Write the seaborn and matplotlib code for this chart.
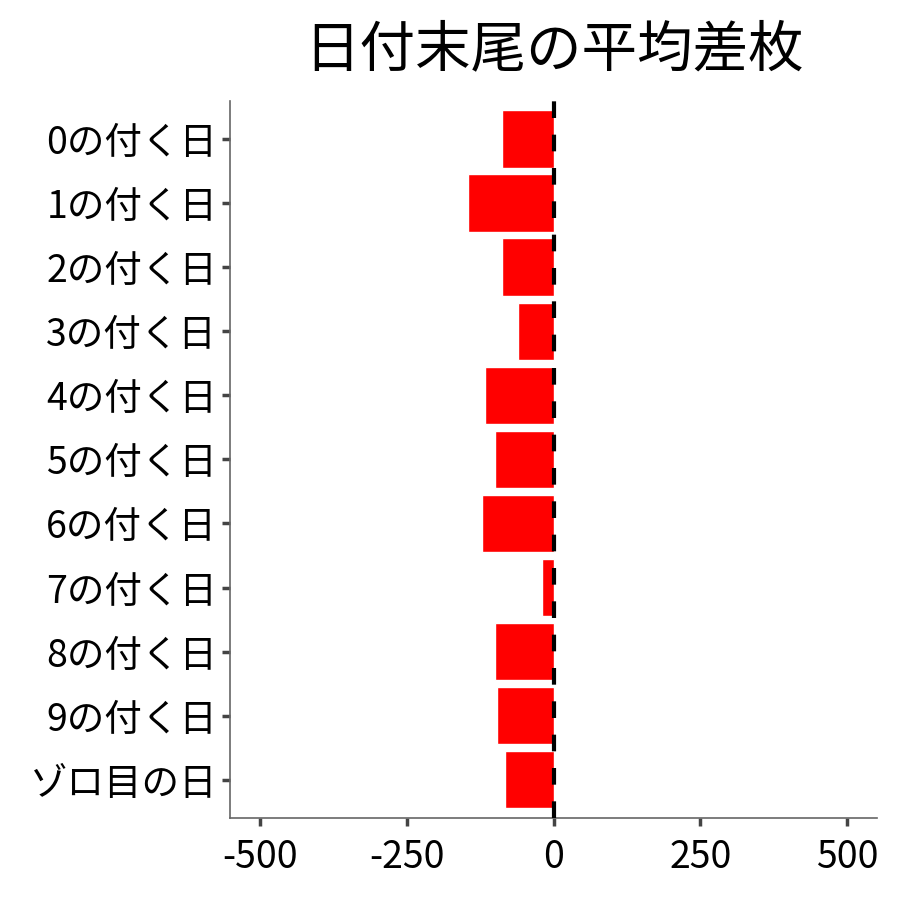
import matplotlib
matplotlib.use("Agg")
import pandas as pd
import seaborn as sns
from matplotlib import pyplot as plt

labels = [
    "0の付く日", "1の付く日", "2の付く日", "3の付く日", "4の付く日", "5の付く日",
    "6の付く日", "7の付く日", "8の付く日", "9の付く日", "ゾロ目の日",
]
mean_diff = [-88, -145, -88, -60, -116, -100, -121, -20, -100, -97, -83]
x_ticks = [-500, -250, 0, 250, 500]

sns.set_style("white")
plt.rcParams["font.family"] = ["Noto Sans CJK JP", "DejaVu Sans"]
plt.rcParams["text.color"] = "black"

df = pd.DataFrame({"label": labels, "diff": mean_diff})

fig = plt.figure(figsize=(9, 9), dpi=100)
ax = fig.add_axes([0.256, 0.091, 0.718, 0.797])

sns.barplot(data=df, x="diff", y="label", order=labels, color="#ff0000",
            saturation=1, width=0.9, orient="h", ax=ax)
ax.axvline(0, color="black", linestyle=(0, (4, 4)), linewidth=3, zorder=5)

ax.set_xlim(-550, 550)
ax.set_ylim(len(labels) - 0.4, -0.6)
ax.set_xticks(x_ticks)
ax.set_xticklabels([str(v) for v in x_ticks])
ax.set_xlabel("")
ax.set_ylabel("")
ax.set_title("日付末尾の平均差枚", fontsize=40, pad=25, color="black")

ax.tick_params(axis="both", bottom=True, left=True, labelsize=27,
               labelcolor="black", color="#444444", length=6, width=2.5)
ax.tick_params(axis="x", pad=8)
for side in ["top", "right"]:
    ax.spines[side].set_visible(False)
for side in ["left", "bottom"]:
    ax.spines[side].set_color("#666666")
    ax.spines[side].set_linewidth(1.2)

fig.savefig("out.png", dpi=100)
